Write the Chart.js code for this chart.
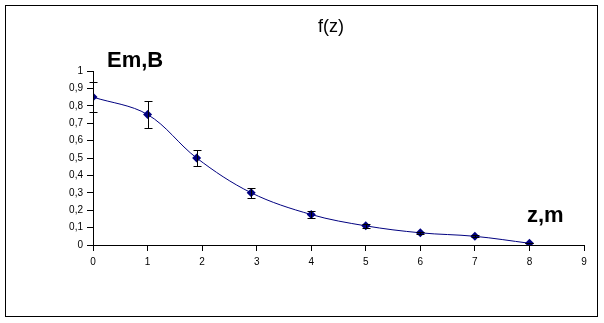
<!DOCTYPE html>
<html>
<head>
<meta charset="utf-8">
<script src="https://cdn.jsdelivr.net/npm/chart.js@4/dist/chart.umd.min.js"></script>
<style>
  html, body { margin: 0; padding: 0; background: #fff; }
  #wrap { width: 604px; height: 323px; }
</style>
</head>
<body>
<div id="wrap"><canvas id="c" width="604" height="323"></canvas></div>
<script>
// Measured field strength Em (V) against depth z (m)
const zValues = [0, 1, 1.9, 2.9, 4, 5, 6, 7, 8];
const emValues = [0.85, 0.75, 0.5, 0.3, 0.175, 0.11, 0.07, 0.05, 0.01];
const emErrors = [0.088, 0.075, 0.048, 0.03, 0.02, 0.011, 0.007, 0.005, 0.001];
const xTicks = [0, 1, 2, 3, 4, 5, 6, 7, 8, 9];
const yTicks = [0, 0.1, 0.2, 0.3, 0.4, 0.5, 0.6, 0.7, 0.8, 0.9, 1];

const FONT = "'Liberation Sans', Arial, sans-serif";
const points = zValues.map((z, i) => ({ x: z, y: emValues[i] }));

// Vertical error bars with small caps, placed through the chart scales
const errorBars = {
  id: 'errorBars',
  afterDatasetsDraw(chart) {
    const { ctx, scales: { x, y } } = chart;
    ctx.save();
    ctx.strokeStyle = '#000';
    ctx.lineWidth = 1;
    zValues.forEach((z, i) => {
      const px = Math.round(x.getPixelForValue(z)) + 0.5;
      const top = Math.round(y.getPixelForValue(emValues[i] + emErrors[i])) + 0.5;
      const bot = Math.round(y.getPixelForValue(emValues[i] - emErrors[i])) + 0.5;
      ctx.beginPath();
      ctx.moveTo(px, top); ctx.lineTo(px, bot);
      ctx.moveTo(px - 4, top); ctx.lineTo(px + 4, top);
      ctx.moveTo(px - 4, bot); ctx.lineTo(px + 4, bot);
      ctx.stroke();
    });
    ctx.restore();
  }
};

// Frame round the whole chart, the heading and the axis captions
const frameAndCaptions = {
  id: 'frameAndCaptions',
  afterDraw(chart) {
    const { ctx, chartArea } = chart;
    ctx.save();
    ctx.strokeStyle = '#000';
    ctx.lineWidth = 1;
    ctx.strokeRect(5.5, 5.5, 592, 311);
    ctx.fillStyle = '#000';
    ctx.textBaseline = 'alphabetic';
    ctx.textAlign = 'center';
    ctx.font = '18px ' + FONT;
    ctx.fillText('f(z)', 331, 32);
    ctx.textAlign = 'left';
    ctx.font = 'bold 22px ' + FONT;
    ctx.fillText('Em,B', chartArea.left + 14, chartArea.top - 4);
    ctx.fillText('z,m', chartArea.right - 57, chartArea.bottom - 23);
    ctx.restore();
  }
};

new Chart(document.getElementById('c'), {
  type: 'scatter',
  data: {
    datasets: [{
      data: points,
      showLine: true,
      tension: 0.35,
      borderColor: '#000080',
      borderWidth: 1,
      backgroundColor: '#000080',
      pointStyle: 'rectRot',
      pointRadius: 4.5,
      pointBorderWidth: 0
    }]
  },
  options: {
    responsive: false,
    animation: false,
    events: [],
    layout: { padding: { top: 71, left: 12, right: 20, bottom: 54 } },
    plugins: {
      legend: { display: false },
      tooltip: { enabled: false },
      title: { display: false }
    },
    scales: {
      x: {
        type: 'linear',
        min: 0,
        max: 9,
        afterBuildTicks(scale) { scale.ticks = xTicks.map(v => ({ value: v })); },
        afterFit(scale) { scale.height = 24; },
        ticks: {
          color: '#000',
          font: { family: FONT, size: 10 },
          padding: 5,
          maxRotation: 0,
          callback: v => String(v)
        },
        grid: { drawOnChartArea: false, color: '#000', tickLength: 6, lineWidth: 1 },
        border: { display: true, color: '#000', width: 1 }
      },
      y: {
        type: 'linear',
        min: 0,
        max: 1,
        afterBuildTicks(scale) { scale.ticks = yTicks.map(v => ({ value: v })); },
        afterFit(scale) { scale.width = 81; },
        ticks: {
          color: '#000',
          font: { family: FONT, size: 10 },
          padding: 4,
          callback: v => String(Math.round(v * 10) / 10).replace('.', ',')
        },
        grid: { drawOnChartArea: false, color: '#000', tickLength: 6, lineWidth: 1 },
        border: { display: true, color: '#000', width: 1 }
      }
    }
  },
  plugins: [errorBars, frameAndCaptions]
});
</script>
</body>
</html>
